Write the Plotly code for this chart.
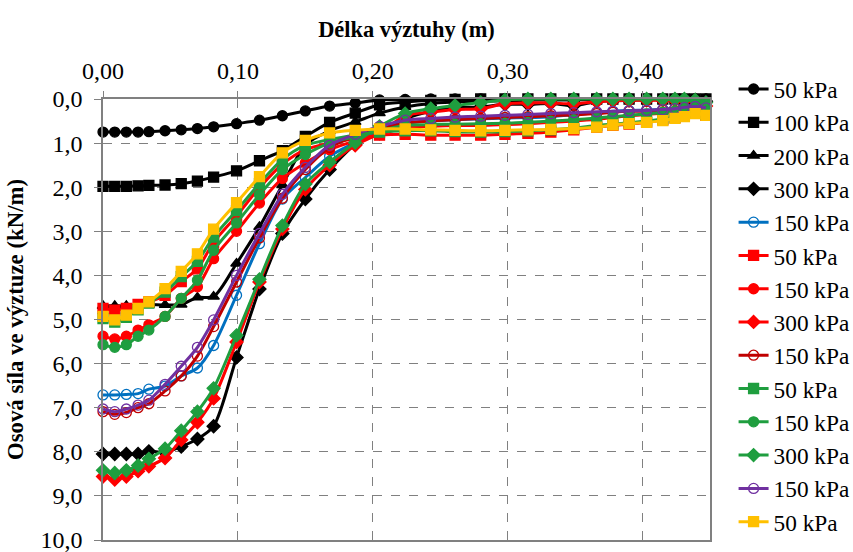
import plotly.graph_objects as go

X = [0, 0.0087, 0.0173, 0.026, 0.034, 0.046, 0.058, 0.070, 0.082, 0.099, 0.116,
     0.133, 0.150, 0.168, 0.187, 0.205, 0.224, 0.243, 0.261, 0.280, 0.298, 0.315,
     0.332, 0.349, 0.366, 0.378, 0.390, 0.403, 0.415, 0.424, 0.431, 0.439, 0.447]

names = ["50 kPa", "100 kPa", "200 kPa", "300 kPa", "150 kPa", "50 kPa", "150 kPa",
         "300 kPa", "150 kPa", "50 kPa", "150 kPa", "300 kPa", "150 kPa", "50 kPa"]

s1 = [0.75, 0.75, 0.75, 0.75, 0.74, 0.72, 0.70, 0.67, 0.63, 0.56, 0.48, 0.38, 0.27, 0.16, 0.09, 0.02,
      0.01, 0, 0, 0, 0, 0, 0, 0, 0, 0, 0, 0, 0, 0, 0, 0, 0]
s2 = [1.98, 1.98, 1.98, 1.97, 1.96, 1.95, 1.92, 1.86, 1.77, 1.63, 1.40, 1.17, 0.85, 0.53, 0.32, 0.13,
      0.07, 0.03, 0.01, 0, 0, 0, 0, 0, 0, 0, 0, 0, 0, 0, 0, 0, 0]
s3 = [4.69, 4.69, 4.69, 4.67, 4.66, 4.67, 4.66, 4.50, 4.48, 3.73, 2.90, 1.95, 1.05, 0.72, 0.52, 0.32,
      0.18, 0.10, 0.07, 0.05, 0.04, 0.03, 0.02, 0.02, 0.01, 0.01, 0, 0, 0, 0, 0, 0, 0]
s4 = [8.05, 8.05, 8.05, 8.05, 7.99, 8.01, 7.88, 7.71, 7.42, 5.86, 4.31, 3.05, 2.27, 1.60, 1.03, 0.75,
      0.45, 0.28, 0.20, 0.18, 0.12, 0.12, 0.10, 0.15, 0.06, 0.04, 0.03, 0.02, 0.02, 0.02, 0.02, 0.02, 0.05]
s5 = [6.71, 6.71, 6.70, 6.68, 6.58, 6.51, 6.28, 6.10, 5.59, 4.45, 3.28, 2.27, 1.78, 1.30, 0.99, 0.72,
      0.55, 0.50, 0.47, 0.45, 0.43, 0.42, 0.40, 0.36, 0.31, 0.28, 0.26, 0.25, 0.23, 0.21, 0.18, 0.15, 0.20]
s6 = [4.75, 4.79, 4.75, 4.66, 4.60, 4.45, 4.14, 3.85, 3.25, 2.65, 2.01, 1.48, 1.15, 1.00, 0.90, 0.82,
      0.80, 0.82, 0.82, 0.82, 0.80, 0.78, 0.75, 0.70, 0.64, 0.60, 0.57, 0.53, 0.47, 0.43, 0.38, 0.32, 0.37]
s7 = [5.38, 5.44, 5.38, 5.24, 5.12, 4.93, 4.52, 4.26, 3.62, 3.00, 2.36, 1.80, 1.45, 1.15, 0.95, 0.80,
      0.65, 0.62, 0.60, 0.60, 0.58, 0.56, 0.53, 0.50, 0.46, 0.42, 0.38, 0.35, 0.32, 0.28, 0.24, 0.20, 0.27]
s8 = [8.56, 8.63, 8.56, 8.44, 8.33, 8.14, 7.73, 7.33, 6.79, 5.51, 4.15, 2.95, 2.05, 1.50, 1.05, 0.78,
      0.38, 0.30, 0.24, 0.22, 0.11, 0.09, 0.09, 0.11, 0.06, 0.04, 0.03, 0.03, 0.03, 0.03, 0.03, 0.05, 0.16]
s9 = [7.09, 7.15, 7.11, 7.00, 6.91, 6.62, 6.28, 5.83, 5.16, 4.15, 3.15, 2.25, 1.60, 1.10, 0.85, 0.68,
      0.55, 0.50, 0.47, 0.44, 0.42, 0.40, 0.38, 0.36, 0.33, 0.30, 0.28, 0.27, 0.25, 0.22, 0.19, 0.17, 0.22]
s10 = [4.98, 5.06, 4.95, 4.78, 4.63, 4.38, 4.03, 3.68, 3.13, 2.53, 1.92, 1.37, 1.05, 0.92, 0.82, 0.75,
       0.72, 0.72, 0.74, 0.75, 0.74, 0.72, 0.70, 0.66, 0.60, 0.57, 0.54, 0.50, 0.45, 0.41, 0.36, 0.30, 0.35]
s11 = [5.57, 5.63, 5.57, 5.38, 5.24, 4.93, 4.52, 4.11, 3.43, 2.81, 2.17, 1.60, 1.26, 1.00, 0.85, 0.72,
       0.60, 0.58, 0.57, 0.56, 0.55, 0.53, 0.50, 0.47, 0.43, 0.40, 0.37, 0.34, 0.30, 0.27, 0.22, 0.18, 0.25]
s12 = [8.42, 8.48, 8.42, 8.31, 8.16, 7.93, 7.52, 7.09, 6.56, 5.36, 4.09, 2.87, 1.93, 1.43, 0.99, 0.62,
       0.33, 0.22, 0.15, 0.08, 0.02, 0, 0, 0, 0, 0, 0, 0, 0, 0, 0, 0.02, 0.08]
s13 = [7.03, 7.09, 7.03, 6.94, 6.83, 6.47, 6.06, 5.63, 5.01, 4.00, 3.05, 2.16, 1.55, 1.05, 0.80, 0.62,
       0.48, 0.44, 0.41, 0.39, 0.37, 0.35, 0.33, 0.31, 0.29, 0.28, 0.27, 0.26, 0.24, 0.22, 0.19, 0.17, 0.20]
s14 = [4.93, 5.01, 4.90, 4.75, 4.60, 4.30, 3.91, 3.51, 2.95, 2.35, 1.76, 1.22, 0.94, 0.77, 0.71, 0.68,
       0.68, 0.70, 0.71, 0.72, 0.71, 0.70, 0.69, 0.67, 0.64, 0.59, 0.56, 0.53, 0.49, 0.44, 0.40, 0.33, 0.37]

series = [s1, s2, s3, s4, s5, s6, s7, s8, s9, s10, s11, s12, s13, s14]

colors = ["#000000", "#000000", "#000000", "#000000", "#0070C0", "#FF0000", "#FF0000",
          "#FF0000", "#C00000", "#1F9E3F", "#1F9E3F", "#1F9E3F", "#7030A0", "#FFC000"]
symbols = ["circle", "square", "triangle-up", "diamond", "circle-open", "square", "circle",
           "diamond", "circle-open", "square", "circle", "diamond", "circle-open", "square"]

xticks = [0, 0.1, 0.2, 0.3, 0.4]
xticktext = ["0,00", "0,10", "0,20", "0,30", "0,40"]
yticks = list(range(0, 11))
yticktext = [f"{v},0" for v in yticks]

FONT = "Times New Roman"

fig = go.Figure()
for i, (name, ys) in enumerate(zip(names, series)):
    fig.add_trace(go.Scatter(
        x=X, y=ys, name=name, mode="lines+markers",
        line=dict(color=colors[i], width=3, shape="spline", smoothing=0.8),
        marker=dict(symbol=symbols[i], size=10,
                    color=colors[i], line=dict(color=colors[i], width=1.3)),
        cliponaxis=False, legendgroup=f"g{i}",
        legend="legend" if i < 7 else "legend2",
    ))

leg_common = dict(xref="container", yref="container", x=0.860,
                  xanchor="left", yanchor="top", tracegroupgap=0,
                  itemwidth=30, font=dict(size=23.3, family=FONT, color="black"),
                  bgcolor="rgba(0,0,0,0)")

fig.update_layout(
    width=853, height=552,
    margin=dict(l=103, r=143, t=99, b=12),
    paper_bgcolor="white", plot_bgcolor="white",
    font=dict(family=FONT, size=24, color="black"),
    showlegend=True,
    legend=dict(y=0.878, **leg_common),
    legend2=dict(y=0.456, **leg_common),
    xaxis=dict(side="top", range=[0, 0.45], tickvals=xticks, ticktext=xticktext,
               showgrid=True, gridcolor="#808080", griddash="dash", gridwidth=1,
               showline=True, linecolor="#808080", linewidth=1.5, mirror=True,
               ticks="outside", ticklen=6, tickcolor="#808080",
               ticklabelstandoff=3, zeroline=False, automargin=False,
               tickfont=dict(family=FONT, size=24),
               title=dict(text="<b>Délka výztuhy (m)</b>", standoff=14,
                          font=dict(size=22.4, family=FONT))),
    yaxis=dict(range=[10, 0], tickvals=yticks, ticktext=yticktext,
               showgrid=True, gridcolor="#808080", griddash="dash", gridwidth=1,
               showline=True, linecolor="#808080", linewidth=1.5, mirror=True,
               ticks="outside", ticklen=7, tickcolor="#808080",
               ticklabelstandoff=7, zeroline=False, ticklabeloverflow="allow",
               automargin=False,
               tickfont=dict(family=FONT, size=24),
               title=dict(text="<b>Osová síla ve výztuze (kN/m)</b>", standoff=10,
                          font=dict(size=22.8, family=FONT))),
)

fig.write_html("out.html")
